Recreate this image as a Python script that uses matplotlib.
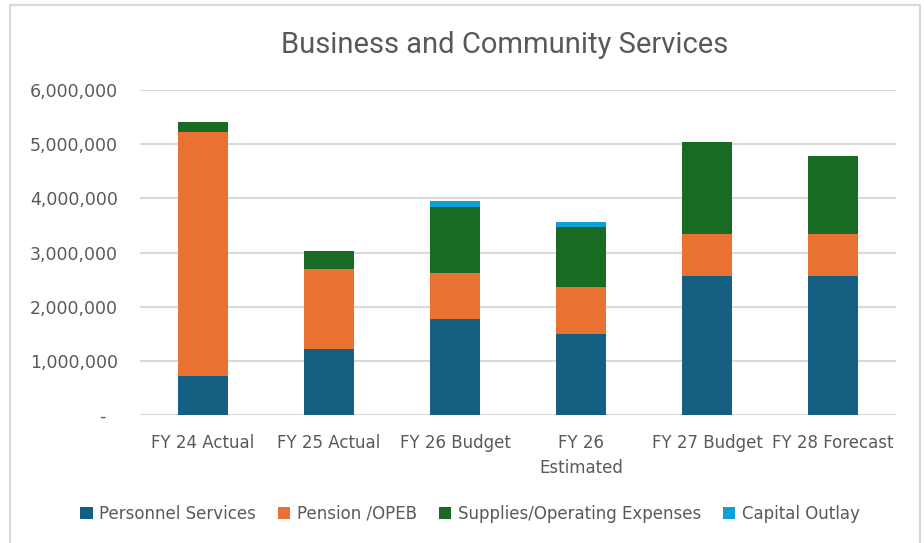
import matplotlib
matplotlib.use("Agg")
import matplotlib.pyplot as plt
from matplotlib.ticker import FuncFormatter
from matplotlib.patches import Rectangle
import numpy as np

categories = ["FY 24 Actual", "FY 25 Actual", "FY 26 Budget", "FY 26\nEstimated", "FY 27 Budget", "FY 28 Forecast"]
personnel = [720000, 1220000, 1770000, 1490000, 2570000, 2570000]
pension = [4500000, 1470000, 860000, 880000, 770000, 770000]
supplies = [190000, 340000, 1210000, 1100000, 1700000, 1440000]
capital = [0, 0, 110000, 100000, 0, 0]
series_names = ["Personnel Services", "Pension /OPEB", "Supplies/Operating Expenses", "Capital Outlay"]
colors = ["#156082", "#E97132", "#196B24", "#0F9ED5"]

TXT = "#595959"
FONT = ["Liberation Sans Narrow", "DejaVu Sans"]

fig = plt.figure(figsize=(9.24, 5.43), dpi=100)
fig.patches.append(Rectangle((10/924, -0.05), 910/924, 1.05 - 5/543, transform=fig.transFigure,
                             fill=False, edgecolor="#d9d9d9", linewidth=1.5))
ax = fig.add_axes([140/924, 1 - 415/543, 756/924, 325/543])

x = np.arange(len(categories))
bottom = np.zeros(len(categories))
for vals, name, c in zip([personnel, pension, supplies, capital], series_names, colors):
    v = np.array(vals, dtype=float)
    ax.bar(x, v, 0.4, bottom=bottom, color=c, label=name, zorder=3)
    bottom += v

ax.set_xlim(-0.5, len(categories) - 0.5)
ax.set_ylim(0, 6000000)
ax.set_yticks(np.arange(0, 6000001, 1000000))
ax.yaxis.set_major_formatter(FuncFormatter(lambda v, p: "-  " if v == 0 else f"{v:,.0f}"))
ax.set_xticks(x)
ax.set_xticklabels(categories, linespacing=1.5)
ax.grid(axis="y", color="#d9d9d9", linewidth=1.5, zorder=0)
for s in ax.spines.values():
    s.set_visible(False)
ax.tick_params(length=0, colors=TXT)
ax.tick_params(axis="y", pad=16, labelsize=12.5)
ax.tick_params(axis="x", pad=14, labelsize=12)
for lab in ax.get_xticklabels() + ax.get_yticklabels():
    lab.set_family(FONT)
    lab.set_color(TXT)
for lab in ax.get_xticklabels():
    lab.set_verticalalignment("top")

fig.text(505/924, 1 - 45/543, "Business and Community Services", ha="center", va="center",
         fontsize=21, color=TXT, family=["Roboto", "DejaVu Sans"])

leg = fig.legend(loc="center", bbox_to_anchor=(470/924, 1 - 514/543), ncol=4, frameon=False,
                 prop={"family": FONT, "size": 12}, handlelength=0.75, handleheight=0.75,
                 handletextpad=0.4, columnspacing=1.3)
for t in leg.get_texts():
    t.set_color(TXT)

fig.savefig("out.png", dpi=100)
